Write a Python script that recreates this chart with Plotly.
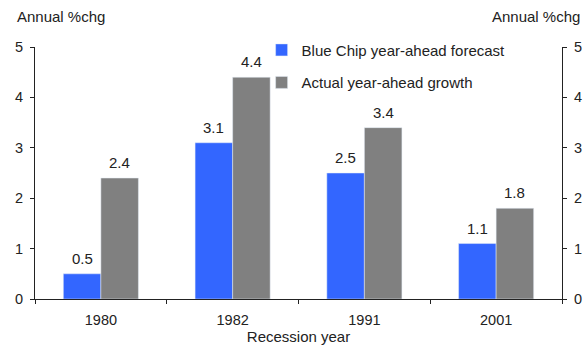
import plotly.graph_objects as go

years = ["1980", "1982", "1991", "2001"]
forecast = [0.5, 3.1, 2.5, 1.1]
actual = [2.4, 4.4, 3.4, 1.8]
y_ticks = [0, 1, 2, 3, 4, 5]

FONT_FAMILY = "Liberation Sans, Arial, sans-serif"
font = dict(family=FONT_FAMILY, size=15, color="#222")
tick_font = dict(family=FONT_FAMILY, size=14.5, color="#222")

W, H = 588, 349
M = dict(l=35, r=26, t=47, b=50)
BARGAP = 0.43
plot_w = W - M["l"] - M["r"]
bar_px = plot_w / len(years) * (1 - BARGAP) / 2

fig = go.Figure()
fig.add_trace(go.Bar(x=years, y=forecast, name="Blue Chip year-ahead forecast",
                     marker_color="#3366FF", legendgroup="a"))
fig.add_trace(go.Bar(x=years, y=actual, name="Actual year-ahead growth",
                     marker_color="#808080", legendgroup="b"))
fig.add_trace(go.Scatter(x=years, y=actual, yaxis="y2", mode="markers",
                         marker=dict(opacity=0), showlegend=False, hoverinfo="skip"))

annotations = []
for series, shift in ((forecast, -bar_px / 2), (actual, bar_px / 2)):
    for i, v in enumerate(series):
        annotations.append(dict(x=i, y=v, text=f"{v:.1f}", showarrow=False,
                                xshift=shift, yshift=5, yanchor="bottom",
                                font=font))

axis_common = dict(range=[0, 5], tickvals=y_ticks, ticks="outside", ticklen=4,
                   showline=True, linecolor="#222", linewidth=1, tickcolor="#222",
                   showgrid=False, zeroline=False, tickfont=tick_font,
                   automargin=False, ticklabelstandoff=4)

annotations += [
    dict(text="Annual %chg", xref="paper", yref="paper", x=-20 / plot_w, y=1.12,
         xanchor="left", yanchor="middle", showarrow=False, font=font),
    dict(text="Annual %chg", xref="paper", yref="paper", x=1 + 20 / plot_w, y=1.12,
         xanchor="right", yanchor="middle", showarrow=False, font=font),
]

fig.update_layout(
    width=W, height=H,
    margin=M,
    plot_bgcolor="white", paper_bgcolor="white",
    font=font,
    barmode="group", bargap=BARGAP, bargroupgap=0,
    xaxis=dict(type="category", showline=True, linecolor="#222", linewidth=1,
               ticks="outside", tickson="boundaries", ticklen=4, tickcolor="#222",
               tickfont=tick_font, automargin=False, ticklabelstandoff=8,
               tickangle=0,
               title=dict(text="Recession year", font=font, standoff=0)),
    yaxis=dict(**axis_common, side="left"),
    yaxis2=dict(**axis_common, side="right", overlaying="y"),
    legend=dict(x=0.43, y=1.053, xanchor="left", yanchor="top",
                bgcolor="rgba(0,0,0,0)", font=font, tracegroupgap=10,
                itemwidth=30),
    annotations=annotations,
)

fig.write_html("out.html")
